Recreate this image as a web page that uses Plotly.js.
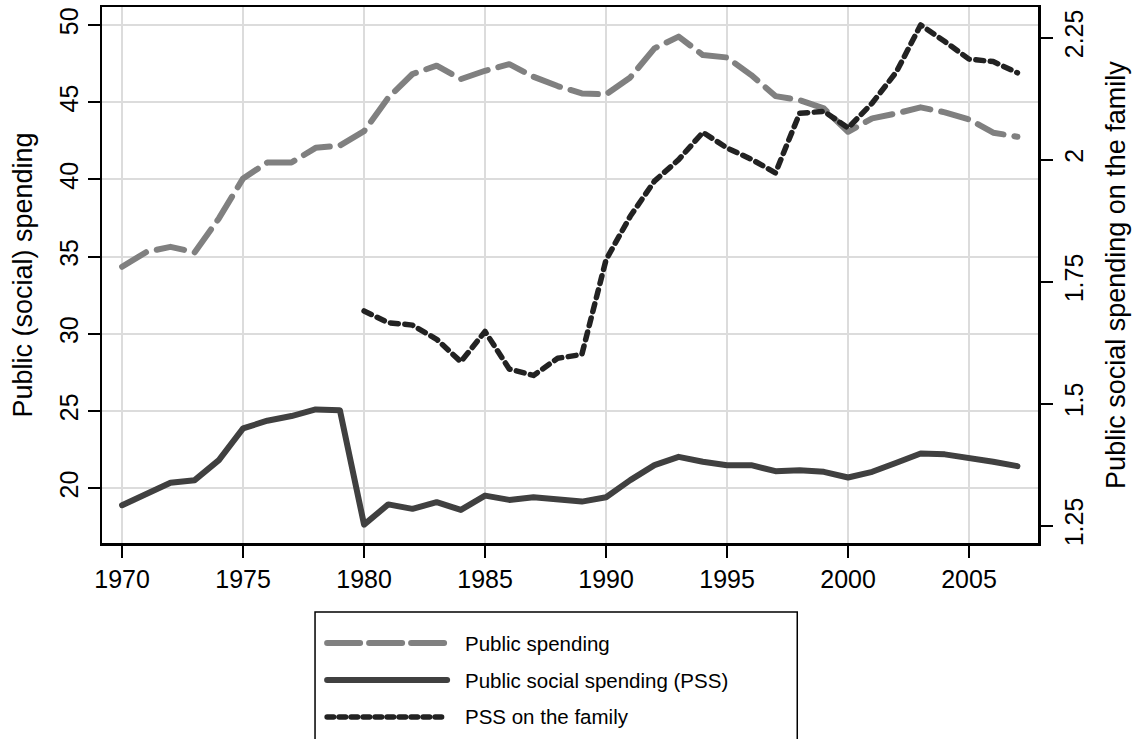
<!DOCTYPE html>
<html>
<head>
<meta charset="utf-8">
<script src="https://cdn.plot.ly/plotly-3.0.1.min.js"></script>
<style>
  html, body { margin: 0; padding: 0; background: #fff; }
  #chart { width: 1136px; height: 739px; }
  .scatterlayer path.js-line { stroke-linecap: round; stroke-linejoin: round; }
  .shapelayer path { stroke-linecap: round; }
</style>
</head>
<body>
<div id="chart"></div>
<script>
// ---- data ----
const years = [1970,1971,1972,1973,1974,1975,1976,1977,1978,1979,
               1980,1981,1982,1983,1984,1985,1986,1987,1988,1989,
               1990,1991,1992,1993,1994,1995,1996,1997,1998,1999,
               2000,2001,2002,2003,2004,2005,2006,2007];

const publicSpending = [34.35,35.3,35.64,35.28,37.48,40.07,41.1,41.1,42.05,42.2,
                        43.13,45.3,46.83,47.37,46.5,47.04,47.47,46.65,46.05,45.57,
                        45.51,46.61,48.49,49.25,48.06,47.9,46.76,45.4,45.14,44.6,
                        43.09,43.96,44.28,44.67,44.35,43.89,43.03,42.77];

const pss = [18.91,19.66,20.36,20.53,21.83,23.88,24.38,24.68,25.11,25.06,
             17.65,18.96,18.67,19.1,18.6,19.53,19.25,19.42,19.25,19.14,
             19.42,20.53,21.5,22.04,21.72,21.5,21.5,21.11,21.17,21.07,
             20.7,21.07,21.66,22.26,22.2,22.0,21.72,21.44];

const familyYears = [1980,1981,1982,1983,1984,1985,1986,1987,1988,1989,
                     1990,1991,1992,1993,1994,1995,1996,1997,1998,1999,
                     2000,2001,2002,2003,2004,2005,2006,2007];
const pssFamily = [1.69,1.666,1.661,1.632,1.586,1.648,1.571,1.558,1.593,1.601,
                   1.795,1.884,1.956,2.0,2.056,2.024,2.001,1.973,2.095,2.099,
                   2.065,2.116,2.18,2.276,2.242,2.206,2.201,2.178];

const xTicks = [1970,1975,1980,1985,1990,1995,2000,2005];
const yTicks = [20,25,30,35,40,45,50];
const y2Ticks = [1.25,1.5,1.75,2,2.25];
const y2TickText = ['1.25','1.5','1.75','2','2.25'];

const seriesNames = ['Public spending','Public social spending (PSS)','PSS on the family'];
const axisTitles = {left: 'Public (social) spending', right: 'Public social spending on the family'};

// ---- styles ----
const FONT = 'Liberation Sans, Arial, sans-serif';
const cGray = '#808080', cDark = '#404040', cBlack = '#222222';

const traces = [
  {x: years, y: publicSpending, name: seriesNames[0], type: 'scatter', mode: 'lines',
   line: {color: cGray, width: 6, dash: '28px,11px'}, yaxis: 'y'},
  {x: years, y: pss, name: seriesNames[1], type: 'scatter', mode: 'lines',
   line: {color: cDark, width: 6}, yaxis: 'y'},
  {x: familyYears, y: pssFamily, name: seriesNames[2], type: 'scatter', mode: 'lines',
   line: {color: cBlack, width: 5.5, dash: '8px,6.5px'}, yaxis: 'y2'}
];

// legend drawn in paper coordinates
const L = {x0: 0.2276, x1: 0.7428, yTop: -0.1287, yBot: -0.40,
           sx0: 0.2405, sx1: 0.3687, tx: 0.3858, rows: [-0.1866, -0.2556, -0.3246]};
const legendStyles = [
  {color: cGray, width: 6, dash: '33px,9px'},
  {color: cDark, width: 6, dash: 'solid'},
  {color: cBlack, width: 5.5, dash: '6.5px,5.5px'}
];

const shapes = [
  {type: 'rect', xref: 'paper', yref: 'paper', x0: L.x0, x1: L.x1, y0: L.yBot, y1: L.yTop,
   line: {color: '#000', width: 1.5}, fillcolor: 'rgba(0,0,0,0)'}
];
const annotations = [];
seriesNames.forEach((n, i) => {
  shapes.push({type: 'line', xref: 'paper', yref: 'paper', x0: L.sx0, x1: L.sx1,
               y0: L.rows[i], y1: L.rows[i], line: legendStyles[i]});
  annotations.push({xref: 'paper', yref: 'paper', x: L.tx, y: L.rows[i], text: n,
                    showarrow: false, xanchor: 'left', yanchor: 'middle',
                    font: {family: FONT, size: 20.5, color: '#000'}});
});

const layout = {
  width: 1136, height: 739,
  margin: {l: 102, r: 98, t: 7, b: 196, pad: 0},
  paper_bgcolor: '#fff', plot_bgcolor: '#fff',
  showlegend: false,
  font: {family: FONT, color: '#000'},
  xaxis: {
    range: [1969.17, 2007.85], tickvals: xTicks, ticks: 'outside', ticklen: 12, tickwidth: 2,
    tickcolor: '#000', showline: true, linecolor: '#000', linewidth: 2.5, mirror: true,
    showgrid: true, gridcolor: '#dcdcdc', gridwidth: 2, zeroline: false,
    tickfont: {family: FONT, size: 25, color: '#000'}
  },
  yaxis: {
    range: [16.46, 51.17], tickvals: yTicks, ticks: 'outside', ticklen: 12, tickwidth: 2,
    tickcolor: '#000', showline: true, linecolor: '#000', linewidth: 2.5,
    showgrid: true, gridcolor: '#dcdcdc', gridwidth: 2, zeroline: false, tickangle: -90,
    tickfont: {family: FONT, size: 25, color: '#000'},
    title: {text: axisTitles.left, font: {family: FONT, size: 27, color: '#000'}, standoff: 14}
  },
  yaxis2: {
    range: [1.2146, 2.3128], overlaying: 'y', side: 'right', tickvals: y2Ticks, ticktext: y2TickText,
    ticks: 'outside', ticklen: 12, tickwidth: 2, tickcolor: '#000',
    showline: true, linecolor: '#000', linewidth: 2.5, showgrid: false, zeroline: false,
    tickangle: -90, tickfont: {family: FONT, size: 25, color: '#000'},
    title: {text: axisTitles.right, font: {family: FONT, size: 27, color: '#000'}, standoff: 20}
  },
  shapes: shapes,
  annotations: annotations
};

Plotly.newPlot('chart', traces, layout, {staticPlot: true, displayModeBar: false});
</script>
</body>
</html>
